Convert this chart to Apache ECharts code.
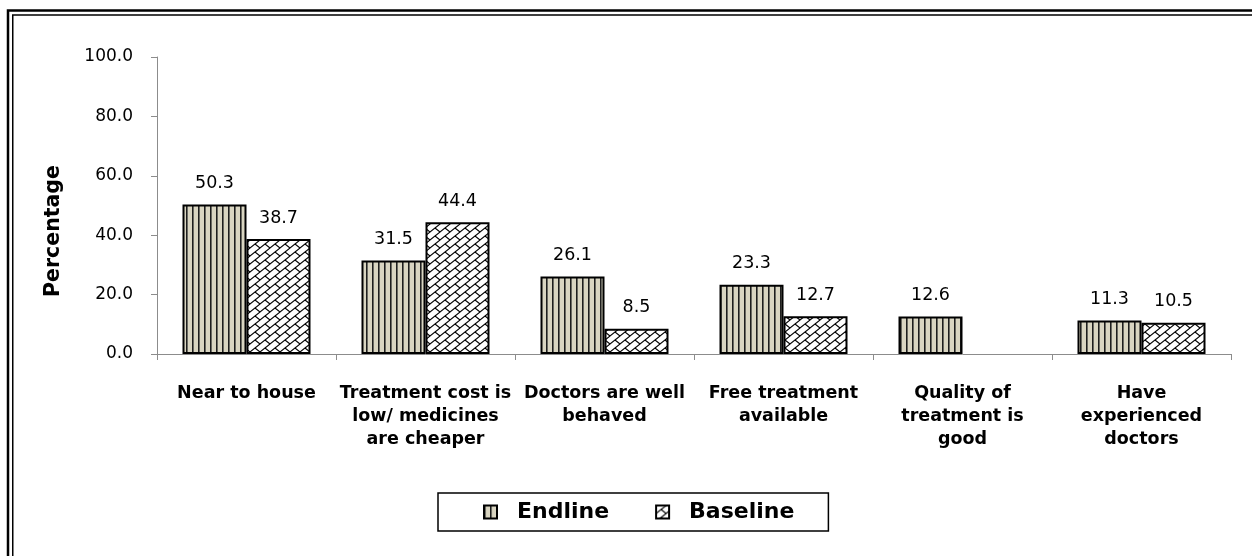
<!DOCTYPE html>
<html>
<head>
<meta charset="utf-8">
<script src="https://cdn.jsdelivr.net/npm/echarts@6/dist/echarts.min.js"></script>
<style>html,body{margin:0;padding:0;background:#fff;}#c{width:1252px;height:556px;}</style>
</head>
<body>
<div id="c"></div>
<script>
var categories = ["Near to house", "Treatment cost is\nlow/ medicines\nare cheaper", "Doctors are well\nbehaved", "Free treatment\navailable", "Quality of\ntreatment is\ngood", "Have\nexperienced\ndoctors"];
var endline = [50.3, 31.5, 26.1, 23.3, 12.6, 11.3];
var baseline = [38.7, 44.4, 8.5, 12.7, null, 10.5];
var seriesNames = ["Endline", "Baseline"];
var yTitle = "Percentage";

function stripePattern() {
  var c = document.createElement('canvas');
  c.width = 6; c.height = 6;
  var g = c.getContext('2d');
  g.fillStyle = '#d9d5c1'; g.fillRect(0, 0, 6, 6);
  g.fillStyle = '#1e1e1e'; g.fillRect(0, 0, 1, 6);
  g.fillStyle = '#6a6a62'; g.fillRect(1, 0, 1, 6);
  return c;
}
function brickPattern() {
  var w = 10, h = 8;
  var c = document.createElement('canvas');
  c.width = w; c.height = h;
  var g = c.getContext('2d');
  g.fillStyle = '#ffffff'; g.fillRect(0, 0, w, h);
  g.strokeStyle = '#000'; g.lineWidth = 1.1;
  for (var k = 0; k <= 2; k++) {
    g.beginPath();
    g.moveTo(-w, (k + 1) * h);
    g.lineTo(2 * w, (k - 2) * h);
    g.stroke();
  }
  var segs = [[5, 4, 10, 8], [-5, -4, 0, 0], [15, 12, 20, 16], [-5, 4, 0, 8], [5, -4, 10, 0]];
  segs.forEach(function (s) {
    g.beginPath(); g.moveTo(s[0], s[1]); g.lineTo(s[2], s[3]); g.stroke();
  });
  return c;
}

var chart = echarts.init(document.getElementById('c'), null, {renderer: 'canvas'});
var lblStyle = {
  show: true, position: 'top', distance: 12,
  fontFamily: 'DejaVu Sans', fontSize: 17.5, color: '#000',
  formatter: function (p) { return p.value == null ? '' : p.value.toFixed(1); }
};
chart.setOption({
  backgroundColor: '#fff',
  animation: false,
  graphic: [
    {type: 'rect', shape: {x: 8, y: 10.5, width: 1400, height: 700}, style: {fill: null, stroke: '#000', lineWidth: 2.5}, silent: true},
    {type: 'rect', shape: {x: 12.75, y: 15, width: 1400, height: 700}, style: {fill: null, stroke: '#000', lineWidth: 1.5}, silent: true},
    {type: 'text', x: 54, y: 231, rotation: Math.PI / 2, silent: true,
      style: {text: yTitle, align: 'center', verticalAlign: 'middle', fontFamily: 'DejaVu Sans', fontWeight: 'bold', fontSize: 20.5, fill: '#000'}}
  ],
  grid: {left: 157, right: 21, top: 57, bottom: 202},
  legend: {
    left: 438, top: 493,
    data: seriesNames,
    icon: 'rect',
    itemWidth: 13, itemHeight: 13, itemGap: 46,
    padding: [8, 34, 8, 45],
    borderColor: '#000', borderWidth: 1.5,
    textStyle: {fontFamily: 'DejaVu Sans', fontWeight: 'bold', fontSize: 22, color: '#000', padding: [0, 0, 0, 15]}
  },
  xAxis: {
    type: 'category', data: categories,
    axisLine: {lineStyle: {color: '#8c8c8c', width: 1}},
    axisTick: {show: true, length: 6, lineStyle: {color: '#8c8c8c'}},
    axisLabel: {interval: 0, margin: 28, fontFamily: 'DejaVu Sans', fontWeight: 'bold', fontSize: 17.5, lineHeight: 23, color: '#000'}
  },
  yAxis: {
    type: 'value', min: 0, max: 100, interval: 20,
    axisLine: {show: true, lineStyle: {color: '#8c8c8c', width: 1}},
    axisTick: {show: true, length: 6, lineStyle: {color: '#8c8c8c'}},
    splitLine: {show: false},
    axisLabel: {margin: 24, fontFamily: 'DejaVu Sans', fontSize: 17, color: '#000',
      formatter: function (v) { return v.toFixed(1); }}
  },
  series: [
    {name: seriesNames[0], type: 'bar', data: endline, barWidth: 64, barGap: '0%',
      itemStyle: {color: {image: stripePattern(), repeat: 'repeat'}, borderColor: '#000', borderWidth: 2},
      label: lblStyle},
    {name: seriesNames[1], type: 'bar', data: baseline, barWidth: 64, barGap: '0%',
      itemStyle: {color: {image: brickPattern(), repeat: 'repeat'}, borderColor: '#000', borderWidth: 2},
      label: lblStyle}
  ]
});
</script>
</body>
</html>
